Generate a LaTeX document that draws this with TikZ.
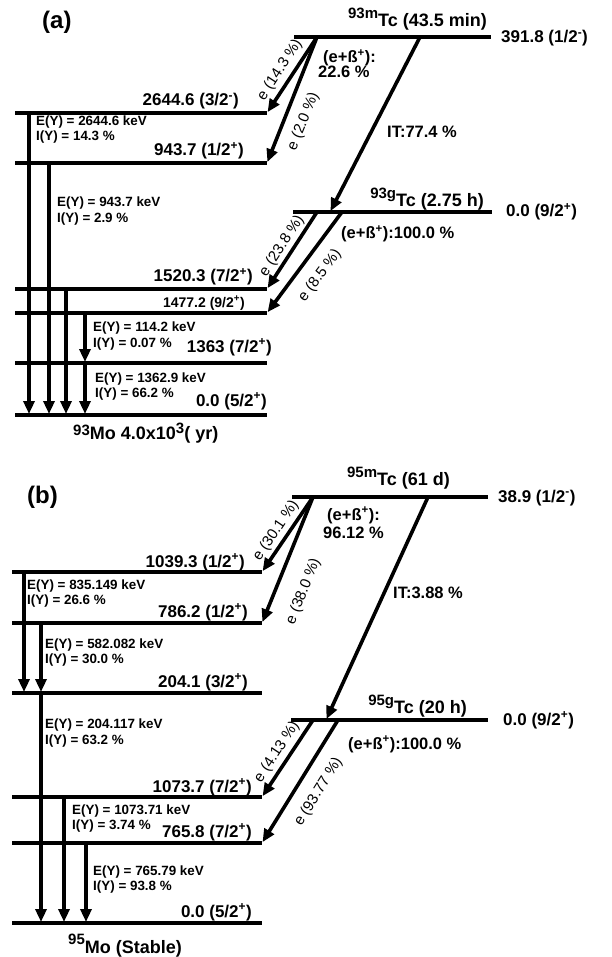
\documentclass[tikz,border=0pt]{standalone}
\usepackage{fontspec}
\setmainfont{Liberation Sans}
\usetikzlibrary{arrows.meta}
\newcommand\su[1]{\textsuperscript{#1}}
\begin{document}
\begin{tikzpicture}[x=1pt,y=-1pt,
  level/.style={line width=3.8pt},
  decay/.style={line width=3.6pt,shorten >=1pt,-{Triangle[length=13pt,width=11pt]}},
  lvl/.style={inner sep=0pt,font=\fontsize{17}{17}\selectfont\bfseries},
  lvls/.style={inner sep=0pt,font=\fontsize{14}{14}\selectfont\bfseries},
  gam/.style={inner sep=0pt,anchor=base west,font=\fontsize{13.4}{13.4}\selectfont\bfseries},
  dec/.style={inner sep=0pt,anchor=base west,font=\fontsize{16.5}{16.5}\selectfont\bfseries},
  elab/.style={inner sep=0pt,font=\fontsize{15}{15}\selectfont},
  nuc/.style={inner sep=0pt,font=\fontsize{18}{18}\selectfont\bfseries},
  panel/.style={inner sep=0pt,anchor=base west,font=\fontsize{24}{24}\selectfont\bfseries}]
\useasboundingbox (0,0) rectangle (612,957);
\fill[white] (0,0) rectangle (612,957);

% ================= panel (a) =================
\node[panel] (pa) at (42,29) {(a)};
% levels
\coordinate (amL) at (294,37);  \coordinate (amR) at (491,37);
\coordinate (agL) at (293,212); \coordinate (agR) at (492,212);
\coordinate (a2644L) at (15,113); \coordinate (a2644R) at (267,113);
\coordinate (a943L) at (15,163);  \coordinate (a943R) at (267,163);
\coordinate (a1520L) at (15,289); \coordinate (a1520R) at (267,289);
\coordinate (a1477L) at (15,313); \coordinate (a1477R) at (267,313);
\coordinate (a1363L) at (15,363); \coordinate (a1363R) at (267,363);
\coordinate (a0L) at (15,415);    \coordinate (a0R) at (267,415);
\foreach \l in {am,ag,a2644,a943,a1520,a1477,a1363,a0}
  \draw[level] (\l L) -- (\l R);
% gamma arrow points
\coordinate (ag1s) at (29,113); \coordinate (ag1e) at (29,415);
\coordinate (ag2s) at (49,163); \coordinate (ag2e) at (49,415);
\coordinate (ag3s) at (66,289); \coordinate (ag3e) at (66,415);
\coordinate (ag4s) at (85,313); \coordinate (ag4e) at (85,363);
\coordinate (ag5e) at (85,415);
\draw[decay] (ag1s) -- (ag1e);
\draw[decay] (ag2s) -- (ag2e);
\draw[decay] (ag3s) -- (ag3e);
\draw[decay] (ag4s) -- (ag4e);
\draw[decay] (ag4e) -- (ag5e);
% decay arrows
\coordinate (ame) at (317,37); \coordinate (amit) at (420,37); \coordinate (agit) at (330,212);
\coordinate (age1) at (317,212); \coordinate (age2) at (342,212);
\draw[decay] (ame) -- (a2644R);
\draw[decay] (ame) -- (a943R);
\draw[decay] (amit) -- (agit);
\draw[decay] (age1) -- (a1520R);
\draw[decay] (age2) -- (a1477R);
% level labels
\node[lvl,anchor=base east] (t2644) at (239,106) {2644.6 (3/2\su{-})};
\node[lvl,anchor=base east] (t943) at (244,156) {943.7 (1/2\su{+})};
\node[lvl,anchor=base east] (t1520) at (253,282) {1520.3 (7/2\su{+})};
\node[lvls,anchor=base east] (t1477) at (245,307) {1477.2 (9/2\su{+})};
\node[lvl,anchor=base east] (t1363) at (272,352) {1363 (7/2\su{+})};
\node[lvl,anchor=base east] (t0a) at (267,406) {0.0 (5/2\su{+})};
\node[lvl,anchor=base west] (t391) at (501,43) {391.8 (1/2\su{-})};
\node[lvl,anchor=base west] (t0ga) at (506,217) {0.0 (9/2\su{+})};
\node[nuc,anchor=base east] (n93m) at (487,27) {{\fontsize{15}{15}\selectfont\raisebox{8pt}{93m}}Tc (43.5 min)};
\node[nuc,anchor=base east] (n93g) at (484,207) {{\fontsize{15}{15}\selectfont\raisebox{8pt}{93g}}Tc (2.75 h)};
\node[nuc,anchor=base west] (n93Mo) at (73,439) {{\fontsize{15}{15}\selectfont\raisebox{4pt}{93}}Mo 4.0x10{\fontsize{15}{15}\selectfont\raisebox{6pt}{3}}( yr)};
% gamma labels
\node[gam] (ea1) at (36,125.5) {E(Y) = 2644.6 keV};
\node[gam] (ia1) at (36,140.5) {I(Y) = 14.3 \%};
\node[gam] (ea2) at (57,207) {E(Y) = 943.7 keV};
\node[gam] (ia2) at (57,223) {I(Y) = 2.9 \%};
\node[gam] (ea3) at (93,331) {E(Y) = 114.2 keV};
\node[gam] (ia3) at (93,347) {I(Y) = 0.07 \%};
\node[gam] (ea4) at (95,382) {E(Y) = 1362.9 keV};
\node[gam] (ia4) at (95,397) {I(Y) = 66.2 \%};
% decay labels
\node[dec] (da1) at (323,63) {(e+ß\su{+}):};
\node[dec] (da2) at (318,78) {22.6 \%};
\node[dec] (da3) at (387,138) {IT:77.4 \%};
\node[dec] (da4) at (341,239) {(e+ß\su{+}):100.0 \%};
\node[elab,rotate=57] (ela1) at (280,70) {e (14.3 \%)};
\node[elab,rotate=68] (ela2) at (303.5,121.5) {e (2.0 \%)};
\node[elab,rotate=57] (ela3) at (282,246) {e (23.8 \%)};
\node[elab,rotate=53] (ela4) at (320,275.5) {e (8.5 \%)};

% ================= panel (b) =================
\node[panel] (pb) at (27,503) {(b)};
\coordinate (bmL) at (292,497);  \coordinate (bmR) at (488,497);
\coordinate (bgL) at (291,720);  \coordinate (bgR) at (488,720);
\coordinate (b1039L) at (12,572); \coordinate (b1039R) at (262,572);
\coordinate (b786L) at (12,623);  \coordinate (b786R) at (262,623);
\coordinate (b204L) at (12,693);  \coordinate (b204R) at (262,693);
\coordinate (b1073L) at (12,797); \coordinate (b1073R) at (262,797);
\coordinate (b765L) at (12,843);  \coordinate (b765R) at (262,843);
\coordinate (b0L) at (12,923);    \coordinate (b0R) at (262,923);
\foreach \l in {bm,bg,b1039,b786,b204,b1073,b765,b0}
  \draw[level] (\l L) -- (\l R);
\coordinate (bg1s) at (24,572); \coordinate (bg1e) at (24,693);
\coordinate (bg2s) at (41,623); \coordinate (bg2e) at (41,693);
\coordinate (bg3e) at (41,923);
\coordinate (bg4s) at (64,797); \coordinate (bg4e) at (64,923);
\coordinate (bg5s) at (86,843); \coordinate (bg5e) at (86,923);
\draw[decay] (bg1s) -- (bg1e);
\draw[decay] (bg2s) -- (bg2e);
\draw[decay] (bg2e) -- (bg3e);
\draw[decay] (bg4s) -- (bg4e);
\draw[decay] (bg5s) -- (bg5e);
\coordinate (bme) at (313,497); \coordinate (bmit) at (428,497); \coordinate (bgit) at (326,720);
\coordinate (bge1) at (313,720); \coordinate (bge2) at (338,720);
\draw[decay] (bme) -- (b1039R);
\draw[decay] (bme) -- (b786R);
\draw[decay] (bmit) -- (bgit);
\draw[decay] (bge1) -- (b1073R);
\draw[decay] (bge2) -- (b765R);
\node[lvl,anchor=base east] (t1039) at (245,567) {1039.3 (1/2\su{+})};
\node[lvl,anchor=base east] (t786) at (248,617) {786.2 (1/2\su{+})};
\node[lvl,anchor=base east] (t204) at (248,687) {204.1 (3/2\su{+})};
\node[lvl,anchor=base east] (t1073) at (252,792) {1073.7 (7/2\su{+})};
\node[lvl,anchor=base east] (t765) at (252,837) {765.8 (7/2\su{+})};
\node[lvl,anchor=base east] (t0b) at (252,917) {0.0 (5/2\su{+})};
\node[lvl,anchor=base west] (t389) at (498,502) {38.9 (1/2\su{-})};
\node[lvl,anchor=base west] (t0gb) at (503,725) {0.0 (9/2\su{+})};
\node[nuc,anchor=base east] (n95m) at (450,485) {{\fontsize{15}{15}\selectfont\raisebox{8pt}{95m}}Tc (61 d)};
\node[nuc,anchor=base east] (n95g) at (467,713) {{\fontsize{15}{15}\selectfont\raisebox{8pt}{95g}}Tc (20 h)};
\node[nuc,anchor=base west] (n95Mo) at (68,953) {{\fontsize{15}{15}\selectfont\raisebox{9pt}{95}}Mo (Stable)};
\node[gam] (eb1) at (27,589) {E(Y) = 835.149 keV};
\node[gam] (ib1) at (27,604) {I(Y) = 26.6 \%};
\node[gam] (eb2) at (45,648) {E(Y) = 582.082 keV};
\node[gam] (ib2) at (45,663) {I(Y) = 30.0 \%};
\node[gam] (eb3) at (45,728) {E(Y) = 204.117 keV};
\node[gam] (ib3) at (45,744) {I(Y) = 63.2 \%};
\node[gam] (eb4) at (72,814) {E(Y) = 1073.71 keV};
\node[gam] (ib4) at (72,829) {I(Y) = 3.74 \%};
\node[gam] (eb5) at (93,875) {E(Y) = 765.79 keV};
\node[gam] (ib5) at (93,890) {I(Y) = 93.8 \%};
\node[dec] (db1) at (327,520) {(e+ß\su{+}):};
\node[dec] (db2) at (323,538) {96.12 \%};
\node[dec] (db3) at (393,598) {IT:3.88 \%};
\node[dec] (db4) at (348,749) {(e+ß\su{+}):100.0 \%};
\node[elab,rotate=56] (elb1) at (276,531) {e (30.1 \%)};
\node[elab,rotate=68] (elb2) at (303.5,591.5) {e (38.0 \%)};
\node[elab,rotate=56.5] (elb3) at (277,752) {e (4.13 \%)};
\node[elab,rotate=58] (elb4) at (318.5,792) {e (93.77 \%)};
\end{tikzpicture}
\end{document}
